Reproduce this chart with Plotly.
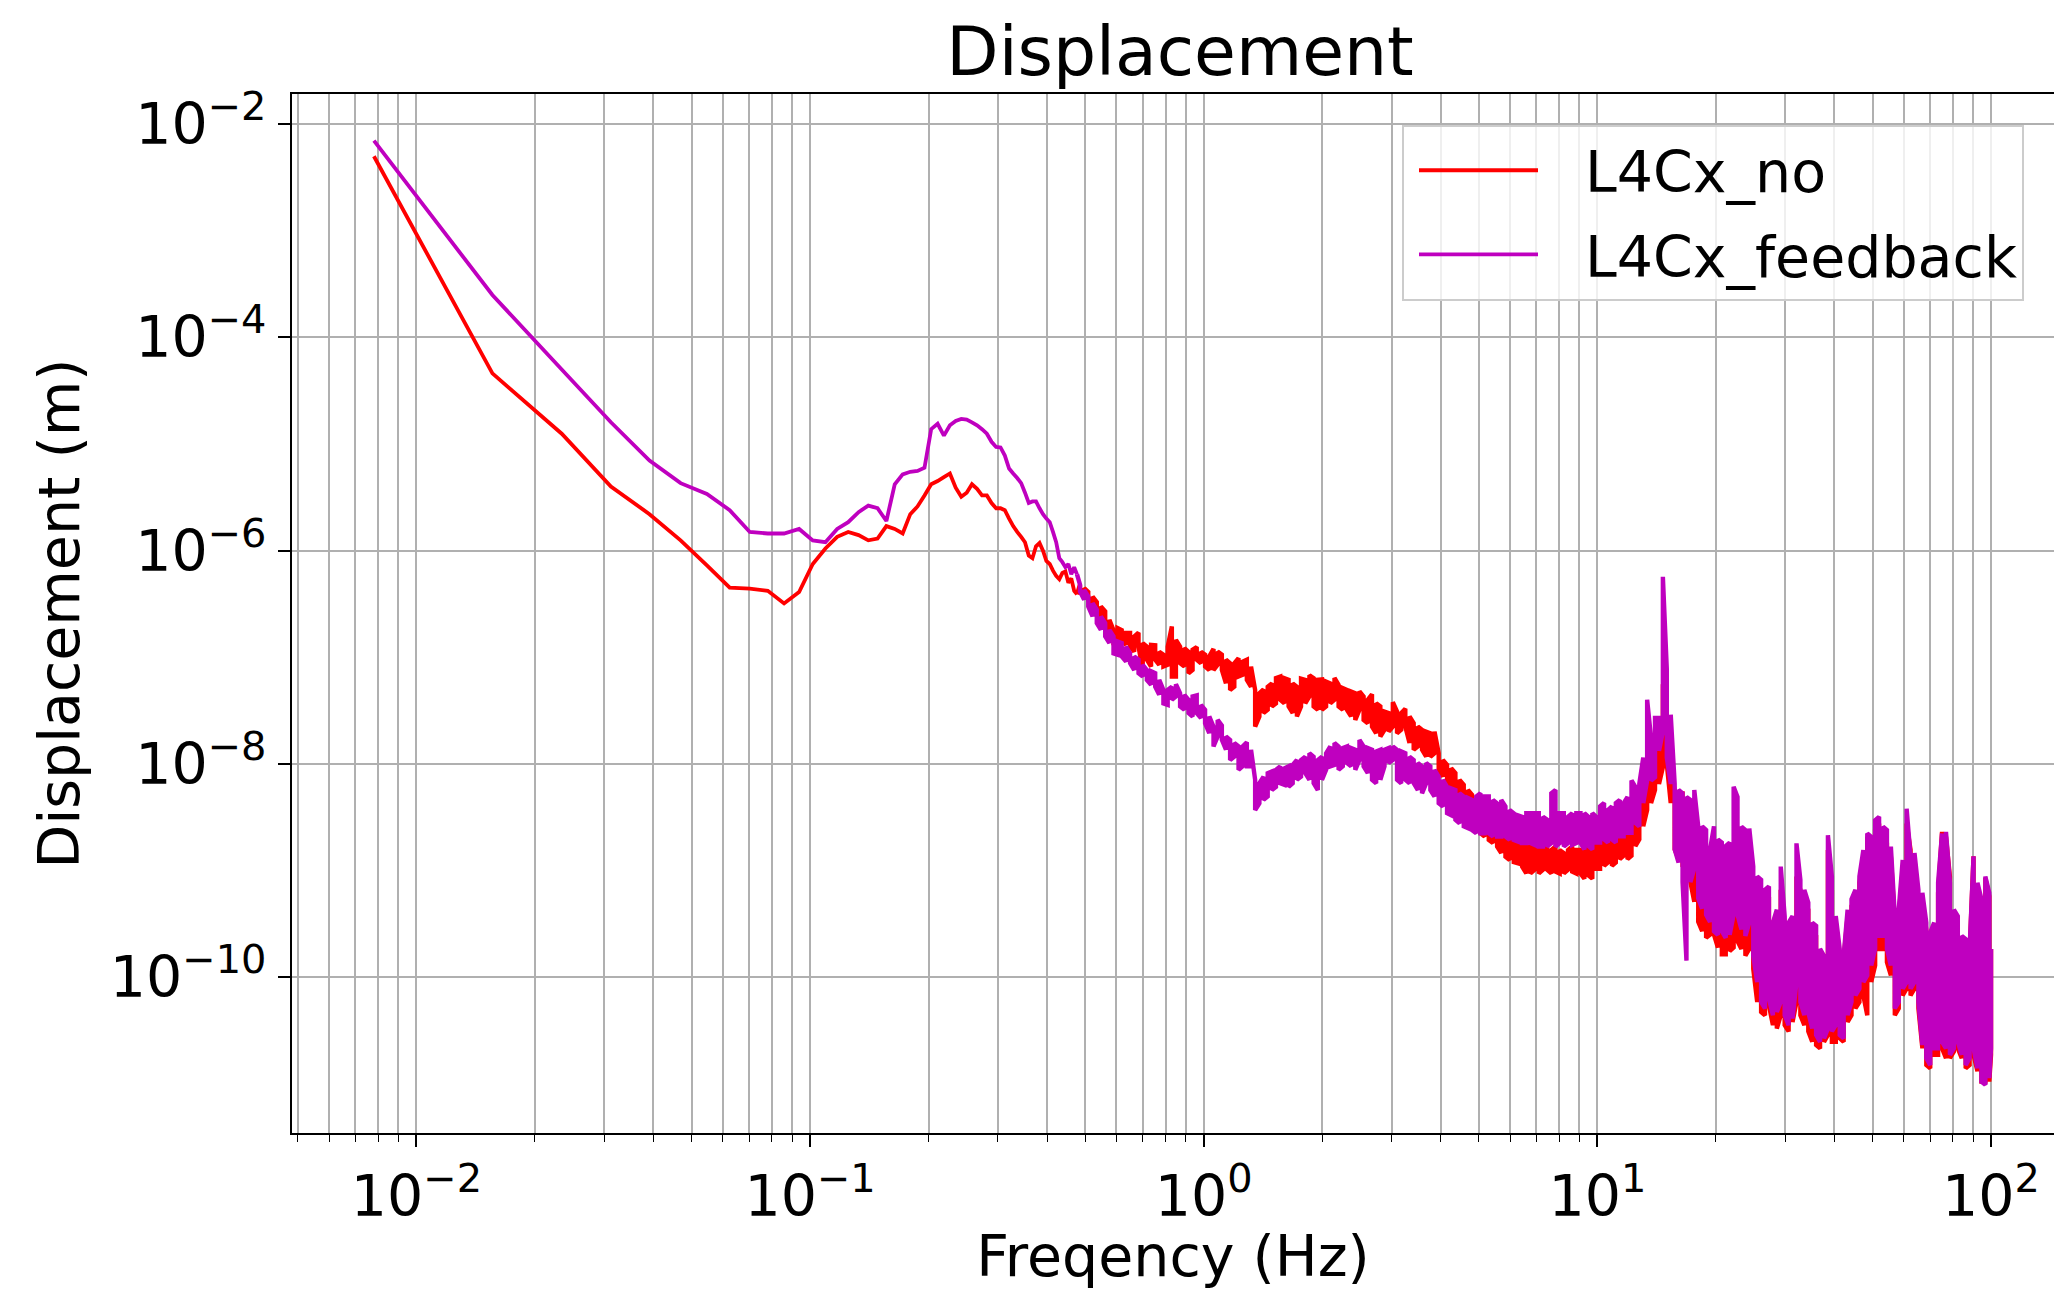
import plotly.graph_objects as go

# ---------------- data ----------------
# smooth low-frequency part (Hz) shared by both spectra
freq_low = [0.0078, 0.0156, 0.0234, 0.0312, 0.0391, 0.0469, 0.0547, 0.0625, 0.0703, 0.0781,
            0.0859, 0.0938, 0.1016, 0.1094, 0.1172, 0.125, 0.1328, 0.1406, 0.1484, 0.1563,
            0.1641, 0.1719, 0.1797, 0.1875, 0.1953, 0.2031, 0.2109, 0.2188, 0.2266, 0.2344,
            0.2422, 0.25, 0.2578, 0.2656, 0.2734, 0.2813, 0.2891, 0.2969, 0.3047, 0.3125,
            0.3203, 0.3281, 0.3359, 0.3438, 0.3516, 0.3594, 0.3672, 0.375, 0.3828, 0.3906,
            0.3984, 0.4063, 0.4141, 0.4219, 0.4297, 0.4375, 0.4453, 0.4531, 0.4609, 0.4688,
            0.4766]

red_low = [5.0e-3, 4.6e-5, 1.25e-5, 4.0e-6, 2.2e-6, 1.25e-6, 7.3e-7, 4.5e-7, 4.4e-7, 4.2e-7,
           3.2e-7, 4.1e-7, 7.5e-7, 1.05e-6, 1.35e-6, 1.5e-6, 1.4e-6, 1.25e-6, 1.3e-6, 1.7e-6,
           1.6e-6, 1.45e-6, 2.2e-6, 2.6e-6, 3.3e-6, 4.2e-6, 4.5e-6, 4.9e-6, 5.3e-6, 3.9e-6,
           3.2e-6, 3.5e-6, 4.2e-6, 3.8e-6, 3.3e-6, 3.3e-6, 2.8e-6, 2.5e-6, 2.5e-6, 2.4e-6,
           2.0e-6, 1.7e-6, 1.5e-6, 1.35e-6, 1.2e-6, 9.0e-7, 8.5e-7, 1.1e-6, 1.18e-6, 1.0e-6,
           8.0e-7, 7.5e-7, 6.5e-7, 5.8e-7, 5.4e-7, 6.2e-7, 6.4e-7, 5.0e-7, 5.5e-7, 4.2e-7,
           3.9e-7]

mag_low = [7.0e-3, 2.5e-4, 5.0e-5, 1.6e-5, 7.0e-6, 4.3e-6, 3.4e-6, 2.4e-6, 1.5e-6, 1.45e-6,
           1.45e-6, 1.6e-6, 1.25e-6, 1.2e-6, 1.6e-6, 1.85e-6, 2.3e-6, 2.65e-6, 2.5e-6, 1.9e-6,
           4.2e-6, 5.2e-6, 5.5e-6, 5.6e-6, 6.0e-6, 1.38e-5, 1.55e-5, 1.2e-5, 1.5e-5, 1.65e-5,
           1.72e-5, 1.7e-5, 1.6e-5, 1.5e-5, 1.38e-5, 1.25e-5, 1.05e-5, 9.4e-6, 9.3e-6, 7.8e-6,
           5.9e-6, 5.3e-6, 4.8e-6, 4.3e-6, 3.5e-6, 2.8e-6, 2.9e-6, 2.9e-6, 2.5e-6, 2.2e-6,
           2.0e-6, 1.85e-6, 1.5e-6, 1.2e-6, 8.5e-7, 7.8e-7, 7.0e-7, 7.5e-7, 6.0e-7, 7.0e-7,
           6.0e-7]

# noisy part (Hz): at each frequency the upper and lower extent of the noise band
freq_noise = [0.485, 0.497, 0.509, 0.522, 0.535, 0.548, 0.562, 0.576, 0.590, 0.604,
              0.619, 0.635, 0.650, 0.666, 0.683, 0.700, 0.717, 0.735, 0.753, 0.771,
              0.790, 0.810, 0.830, 0.850, 0.871, 0.893, 0.915, 0.937, 0.960, 0.984,
              1.008, 1.033, 1.059, 1.085, 1.112, 1.139, 1.167, 1.196, 1.226, 1.256,
              1.287, 1.319, 1.351, 1.385, 1.419, 1.454, 1.490, 1.526, 1.564, 1.603,
              1.643, 1.683, 1.725, 1.767, 1.811, 1.856, 1.902, 1.949, 1.997, 2.046,
              2.097, 2.149, 2.201, 2.256, 2.311, 2.368, 2.427, 2.487, 2.548, 2.611,
              2.676, 2.742, 2.810, 2.879, 2.950, 3.023, 3.098, 3.174, 3.252, 3.333,
              3.415, 3.499, 3.586, 3.674, 3.765, 3.858, 3.953, 4.051, 4.151, 4.253,
              4.359, 4.466, 4.577, 4.690, 4.805, 4.924, 5.046, 5.170, 5.298, 5.429,
              5.563, 5.700, 5.841, 5.985, 6.133, 6.285, 6.440, 6.599, 6.762, 6.929,
              7.100, 7.275, 7.455, 7.639, 7.828, 8.021, 8.219, 8.422, 8.630, 8.843,
              9.06,
              9.27, 9.49, 9.71, 9.93, 10.16, 10.40, 10.64, 10.89, 11.14, 11.40,
              11.66, 11.93, 12.21, 12.49, 12.78, 13.08, 13.38, 13.69, 14.01, 14.34,
              14.67, 15.01, 15.36, 15.72, 16.08, 16.46, 16.84, 17.23, 17.63, 18.04,
              18.46, 18.89, 19.33, 19.78, 20.24, 20.71, 21.19, 21.68, 22.19, 22.70,
              23.23, 23.77, 24.32, 24.89, 25.47, 26.06, 26.66, 27.28, 27.92, 28.57,
              29.23, 29.91, 30.61, 31.32, 32.05, 32.79, 33.56, 34.34, 35.14, 35.95,
              36.79, 37.65, 38.52, 39.42, 40.33, 41.27, 42.23, 43.22, 44.22, 45.25,
              46.31, 47.39, 48.49, 49.62, 50.77, 51.96, 53.17, 54.40, 55.67, 56.97,
              58.29, 59.65, 61.04, 62.46, 63.92, 65.40, 66.93, 68.49, 70.08, 71.71,
              73.38, 75.09, 76.84, 78.63, 80.47, 82.34, 84.26, 86.22, 88.23, 90.28,
              92.38, 94.54, 96.74, 98.99, 100.0]

red_hi = [4.8e-7, 4.45e-7, 4.1e-7, 3.7e-7, 3.3e-7, 3.0e-7, 2.7e-7, 2.25e-7, 1.8e-7, 1.88e-7,
          1.8e-7, 1.69e-7, 1.69e-7, 1.57e-7, 1.7e-7, 1.36e-7, 1.26e-7, 1.31e-7, 1.3e-7, 1.13e-7,
          1.06e-7, 1.26e-7, 1.95e-7, 1.46e-7, 1.26e-7, 1.22e-7, 1.13e-7, 1.18e-7, 1.25e-7, 1.13e-7,
          1.06e-7, 1.02e-7, 1.2e-7, 1.13e-7, 1.06e-7, 9.5e-8, 8.8e-8, 8.8e-8, 9.8e-8, 9.1e-8,
          9.5e-8, 8.2e-8, 4.95e-8, 4.6e-8, 5.0e-8, 5.3e-8, 5.7e-8, 6.4e-8, 6.6e-8, 6.37e-8,
          6.15e-8, 5.7e-8, 5.3e-8, 6.3e-8, 6.15e-8, 6.8e-8, 6.37e-8, 6.15e-8, 6.2e-8, 5.93e-8,
          5.7e-8, 6.4e-8, 5.52e-8, 5.14e-8, 4.95e-8, 4.78e-8, 4.6e-8, 4.8e-8, 4.3e-8, 4.0e-8,
          4.5e-8, 3.7e-8, 3.46e-8, 3.1e-8, 3.0e-8, 3.8e-8, 3.1e-8, 3.0e-8, 3.3e-8, 2.79e-8,
          2.41e-8, 2.24e-8, 2.09e-8, 2.01e-8, 1.94e-8, 2.01e-8, 1.26e-8, 1.09e-8, 9.8e-9, 9.1e-9,
          8.2e-9, 7.1e-9, 6.37e-9, 5.7e-9, 5.13e-9, 4.6e-9, 4.28e-9, 4.0e-9, 3.7e-9, 3.45e-9,
          3.1e-9, 3.0e-9, 2.78e-9, 2.24e-9, 2.0e-9, 1.94e-9, 1.81e-9, 1.68e-9, 1.68e-9, 1.81e-9,
          1.68e-9, 1.81e-9, 1.68e-9, 1.56e-9, 1.68e-9, 1.56e-9, 1.46e-9, 1.56e-9, 1.68e-9, 1.56e-9,
          1.56e-9,
          1.83e-9, 1.96e-9, 1.83e-9, 2.1e-9, 2.26e-9, 1.96e-9, 2.26e-9, 2.4e-9, 2.6e-9, 2.6e-9,
          2.8e-9, 2.8e-9, 3.0e-9, 3.45e-9, 4.3e-9, 5.7e-9, 7.5e-9, 9.3e-9, 1.15e-8, 1.76e-8,
          5.5e-8, 6.3e-8, 8.7e-9, 5.7e-9, 5.3e-9, 5.3e-9, 4.3e-9, 3.45e-9, 2.26e-9, 9.7e-10,
          9.0e-10, 7.8e-10, 7.8e-10, 6.8e-10, 3.85e-10, 3.85e-10, 3.3e-10, 3.85e-10, 5.5e-10, 5.5e-10,
          1.56e-9, 1.36e-9, 1.17e-9, 7.7e-10, 6.6e-10, 6.2e-10, 5.4e-10, 5.4e-10, 3.25e-10, 3.25e-10,
          6.6e-10, 3.25e-10, 2.8e-10, 3.25e-10, 8.8e-10, 6.6e-10, 5.0e-10, 4.3e-10, 2.8e-10, 2.44e-10,
          1.59e-10, 1.38e-10, 1.56e-9, 6.6e-10, 3.25e-10, 1.59e-10, 1.48e-10, 3.75e-10, 4.65e-10, 5.4e-10,
          7.7e-10, 1.36e-9, 2.08e-9, 1.8e-9, 2.4e-9, 2.77e-9, 2.08e-9, 1.8e-9, 1.36e-9, 3.25e-10,
          3.75e-10, 1.02e-9, 2.77e-9, 1.56e-9, 1.26e-9, 5.4e-10, 5.0e-10, 2.8e-10, 2.44e-10, 2.8e-10,
          6.2e-10, 2.31e-9, 2.08e-9, 8.8e-10, 4.03e-10, 3.25e-10, 2.28e-10, 2.12e-10, 1.71e-10, 1.36e-9,
          6.6e-10, 4.65e-10, 8.5e-10, 5.75e-10, 1.84e-10]

red_lo = [4.1e-7, 3.7e-7, 3.46e-7, 3.0e-7, 2.6e-7, 2.25e-7, 1.8e-7, 1.69e-7, 1.36e-7, 1.36e-7,
          1.46e-7, 1.31e-7, 1.26e-7, 1.13e-7, 1.26e-7, 7.6e-8, 9.5e-8, 8.2e-8, 9.5e-8, 8.5e-8,
          8.2e-8, 8.5e-8, 6.6e-8, 6.6e-8, 8.8e-8, 8.2e-8, 7.1e-8, 7.6e-8, 9.5e-8, 8.8e-8,
          8.2e-8, 7.6e-8, 7.6e-8, 8.5e-8, 7.6e-8, 5.7e-8, 4.95e-8, 5.3e-8, 6.6e-8, 6.85e-8,
          6.15e-8, 5.3e-8, 2.24e-8, 2.79e-8, 3.0e-8, 3.22e-8, 3.46e-8, 3.7e-8, 4.0e-8, 3.7e-8,
          3.46e-8, 3.0e-8, 2.79e-8, 3.46e-8, 3.7e-8, 4.3e-8, 3.46e-8, 3.22e-8, 3.22e-8, 3.46e-8,
          3.7e-8, 4.0e-8, 3.46e-8, 3.22e-8, 3.22e-8, 2.79e-8, 2.59e-8, 3.22e-8, 2.59e-8, 2.41e-8,
          2.24e-8, 1.94e-8, 1.81e-8, 2.09e-8, 2.01e-8, 2.24e-8, 1.94e-8, 2.09e-8, 2.24e-8, 1.57e-8,
          1.36e-8, 1.46e-8, 1.36e-8, 1.17e-8, 1.17e-8, 1.26e-8, 8.8e-9, 7.6e-9, 6.6e-9, 6.1e-9,
          5.7e-9, 4.95e-9, 4.28e-9, 3.7e-9, 3.2e-9, 2.6e-9, 2.24e-9, 2.09e-9, 1.94e-9, 1.81e-9,
          1.68e-9, 1.46e-9, 1.35e-9, 1.26e-9, 1.2e-9, 1.17e-9, 1.09e-9, 9.4e-10, 9.4e-10, 1.02e-9,
          9.4e-10, 1.02e-9, 1.02e-9, 9.4e-10, 9.8e-10, 9.4e-10, 9.4e-10, 1.02e-9, 9.8e-10, 9.4e-10,
          9.4e-10,
          8.4e-10, 9.0e-10, 8.4e-10, 1.04e-9, 1.04e-9, 1.11e-9, 1.19e-9, 1.11e-9, 1.19e-9, 1.28e-9,
          1.38e-9, 1.28e-9, 1.38e-9, 1.7e-9, 1.96e-9, 2.6e-9, 3.7e-9, 4.3e-9, 5.7e-9, 6.5e-9,
          9.3e-9, 1.0e-8, 4.3e-9, 1.58e-9, 1.28e-9, 1.11e-9, 1.04e-9, 7.8e-10, 5.1e-10, 3.3e-10,
          2.7e-10, 2.34e-10, 2.5e-10, 2.5e-10, 1.9e-10, 1.64e-10, 1.64e-10, 1.76e-10, 1.9e-10, 2.18e-10,
          1.84e-10, 1.59e-10, 1.84e-10, 1.2e-10, 5.85e-11, 4.72e-11, 4.4e-11, 5.45e-11, 3.55e-11, 3.3e-11,
          4.4e-11, 3.55e-11, 3.1e-11, 3.8e-11, 5.85e-11, 4.4e-11, 3.55e-11, 3.1e-11, 2.48e-11, 2.31e-11,
          2.15e-11, 2.48e-11, 2.87e-11, 2.48e-11, 2.48e-11, 2.67e-11, 2.48e-11, 3.8e-11, 4.4e-11, 5.1e-11,
          5.85e-11, 6.75e-11, 4.4e-11, 9.0e-11, 1.29e-10, 1.84e-10, 1.84e-10, 1.38e-10, 1.04e-10, 4.4e-11,
          5.1e-11, 6.75e-11, 7.8e-11, 6.75e-11, 7.8e-11, 5.1e-11, 2.15e-11, 1.5e-11, 1.4e-11, 1.87e-11,
          1.87e-11, 2.15e-11, 1.74e-11, 1.74e-11, 2.0e-11, 2.15e-11, 1.74e-11, 1.4e-11, 1.5e-11, 1.87e-11,
          1.31e-11, 1.05e-11, 1.05e-11, 1.05e-11, 1.87e-11]

mag_hi = [4.8e-7, 4.3e-7, 3.72e-7, 3.22e-7, 2.8e-7, 2.42e-7, 2.09e-7, 1.81e-7, 1.57e-7, 1.41e-7,
          1.36e-7, 1.26e-7, 1.09e-7, 1.02e-7, 9.5e-8, 8.5e-8, 7.6e-8, 7.4e-8, 7.1e-8, 6.15e-8,
          4.95e-8, 4.95e-8, 5.3e-8, 5.6e-8, 4.6e-8, 4.45e-8, 4.0e-8, 4.3e-8, 4.4e-8, 3.58e-8,
          3.22e-8, 2.79e-8, 2.24e-8, 2.59e-8, 2.3e-8, 1.81e-8, 1.68e-8, 1.57e-8, 1.46e-8, 1.46e-8,
          1.6e-8, 1.36e-8, 7.1e-9, 6.6e-9, 7.6e-9, 8.2e-9, 8.5e-9, 8.8e-9, 9.5e-9, 9.1e-9,
          9.5e-9, 9.8e-9, 1.09e-8, 1.09e-8, 1.17e-8, 1.26e-8, 1.17e-8, 1.09e-8, 1.17e-8, 1.26e-8,
          1.46e-8, 1.57e-8, 1.46e-8, 1.41e-8, 1.46e-8, 1.41e-8, 1.36e-8, 1.68e-8, 1.46e-8, 1.41e-8,
          1.36e-8, 1.31e-8, 1.36e-8, 1.36e-8, 1.41e-8, 1.46e-8, 1.36e-8, 1.31e-8, 1.26e-8, 1.17e-8,
          1.09e-8, 1.02e-8, 9.5e-9, 1.02e-8, 9.5e-9, 8.8e-9, 7.6e-9, 7.1e-9, 6.1e-9, 5.9e-9,
          5.7e-9, 5.3e-9, 4.95e-9, 4.8e-9, 4.6e-9, 4.95e-9, 5.3e-9, 4.95e-9, 4.95e-9, 4.6e-9,
          4.28e-9, 4.6e-9, 4.0e-9, 3.7e-9, 3.45e-9, 3.3e-9, 3.2e-9, 3.45e-9, 3.45e-9, 3.45e-9,
          3.45e-9, 3.2e-9, 3.0e-9, 5.3e-9, 5.7e-9, 3.45e-9, 3.45e-9, 3.2e-9, 3.45e-9, 3.45e-9,
          3.45e-9,
          3.45e-9, 3.2e-9, 3.45e-9, 3.2e-9, 4.0e-9, 4.3e-9, 3.7e-9, 4.0e-9, 4.3e-9, 4.6e-9,
          4.3e-9, 4.9e-9, 7.0e-9, 6.1e-9, 6.5e-9, 1.15e-8, 4.0e-8, 1.76e-8, 2.7e-8, 2.7e-8,
          5.7e-7, 7.8e-8, 2.9e-8, 6.5e-9, 5.7e-9, 5.3e-9, 4.9e-9, 4.6e-9, 5.7e-9, 2.6e-9,
          2.6e-9, 2.4e-9, 1.58e-9, 2.6e-9, 1.96e-9, 1.83e-9, 1.7e-9, 1.83e-9, 6.1e-9, 4.9e-9,
          2.58e-9, 2.4e-9, 2.48e-9, 1.09e-9, 8.8e-10, 8.2e-10, 6.6e-10, 7.1e-10, 3.25e-10, 4.3e-10,
          1.09e-9, 3.75e-10, 3.25e-10, 3.75e-10, 1.8e-9, 8.2e-10, 6.6e-10, 5.0e-10, 3.25e-10, 3.03e-10,
          1.84e-10, 1.59e-10, 2.15e-9, 8.8e-10, 3.75e-10, 1.84e-10, 1.59e-10, 4.3e-10, 5.4e-10, 6.6e-10,
          8.8e-10, 1.56e-9, 2.23e-9, 2.08e-9, 2.97e-9, 3.19e-9, 2.58e-9, 2.4e-9, 1.68e-9, 3.75e-10,
          4.3e-10, 1.26e-9, 3.8e-9, 1.36e-9, 1.46e-9, 6.6e-10, 6.2e-10, 3.25e-10, 2.62e-10, 3.25e-10,
          7.7e-10, 2.23e-9, 2.31e-9, 7.7e-10, 4.3e-10, 3.75e-10, 2.44e-10, 2.28e-10, 1.84e-10, 1.36e-9,
          7.7e-10, 5.4e-10, 8.8e-10, 6.2e-10, 1.84e-10]

mag_lo = [4.14e-7, 3.46e-7, 3.0e-7, 2.42e-7, 2.09e-7, 1.81e-7, 1.57e-7, 1.36e-7, 1.09e-7, 1.06e-7,
          1.02e-7, 9.1e-8, 8.8e-8, 7.6e-8, 7.1e-8, 6.6e-8, 6.15e-8, 5.52e-8, 5.3e-8, 4.45e-8,
          3.7e-8, 3.58e-8, 4.0e-8, 4.3e-8, 3.46e-8, 3.22e-8, 3.0e-8, 2.79e-8, 3.0e-8, 2.7e-8,
          2.41e-8, 1.94e-8, 1.46e-8, 1.81e-8, 1.68e-8, 1.36e-8, 1.09e-8, 1.17e-8, 8.8e-9, 9.5e-9,
          9.5e-9, 9.5e-9, 3.7e-9, 4.28e-9, 4.6e-9, 4.95e-9, 5.7e-9, 6.1e-9, 6.6e-9, 6.37e-9,
          6.1e-9, 6.6e-9, 7.1e-9, 7.6e-9, 8.2e-9, 7.1e-9, 6.6e-9, 5.7e-9, 7.1e-9, 8.8e-9,
          9.5e-9, 9.8e-9, 8.8e-9, 9.5e-9, 1.02e-8, 9.5e-9, 8.8e-9, 1.09e-8, 9.5e-9, 8.2e-9,
          7.1e-9, 6.6e-9, 7.1e-9, 9.5e-9, 1.02e-8, 1.09e-8, 7.1e-9, 6.6e-9, 7.1e-9, 6.6e-9,
          6.6e-9, 5.7e-9, 5.3e-9, 6.6e-9, 5.7e-9, 4.95e-9, 4.28e-9, 4.0e-9, 3.45e-9, 3.3e-9,
          3.0e-9, 2.78e-9, 2.6e-9, 2.5e-9, 2.4e-9, 2.24e-9, 2.24e-9, 2.24e-9, 2.24e-9, 2.09e-9,
          2.09e-9, 2.09e-9, 2.09e-9, 1.94e-9, 1.94e-9, 1.87e-9, 1.81e-9, 1.81e-9, 1.81e-9, 1.74e-9,
          1.68e-9, 1.68e-9, 1.68e-9, 1.81e-9, 1.68e-9, 1.81e-9, 1.68e-9, 1.81e-9, 1.74e-9, 1.81e-9,
          1.81e-9,
          1.58e-9, 1.7e-9, 1.58e-9, 1.83e-9, 1.83e-9, 1.96e-9, 1.83e-9, 1.96e-9, 1.83e-9, 2.1e-9,
          2.1e-9, 2.26e-9, 2.26e-9, 2.8e-9, 2.6e-9, 4.3e-9, 7.0e-9, 7.0e-9, 7.5e-9, 1.33e-8,
          2.0e-8, 1.15e-8, 6.5e-9, 1.58e-9, 1.19e-9, 7.8e-10, 1.43e-10, 7.8e-10, 1.04e-9, 5.5e-10,
          4.4e-10, 3.85e-10, 3.3e-10, 2.7e-10, 2.5e-10, 2.7e-10, 2.34e-10, 2.5e-10, 3.85e-10, 3.85e-10,
          2.8e-10, 2.44e-10, 3.25e-10, 1.59e-10, 9.0e-11, 5.85e-11, 5.1e-11, 6.3e-11, 4.4e-11, 4.72e-11,
          5.85e-11, 4.4e-11, 3.55e-11, 4.1e-11, 9.0e-11, 5.85e-11, 4.4e-11, 4.72e-11, 3.3e-11, 2.87e-11,
          2.48e-11, 2.67e-11, 3.3e-11, 3.1e-11, 3.55e-11, 2.87e-11, 2.67e-11, 4.4e-11, 5.85e-11, 6.75e-11,
          7.8e-11, 9.0e-11, 1.04e-10, 1.29e-10, 1.84e-10, 2.44e-10, 2.44e-10, 1.84e-10, 1.29e-10, 5.1e-11,
          5.85e-11, 7.8e-11, 9.0e-11, 7.8e-11, 9.0e-11, 5.85e-11, 2.31e-11, 1.74e-11, 1.5e-11, 2.15e-11,
          2.15e-11, 2.48e-11, 2.15e-11, 1.87e-11, 2.15e-11, 2.48e-11, 1.87e-11, 1.5e-11, 1.74e-11, 2.15e-11,
          1.4e-11, 1.05e-11, 9.8e-12, 1.13e-11, 2.15e-11]

series_names = ["L4Cx_no", "L4Cx_feedback"]
series_colors = ["#ff0000", "#bf00bf"]

x_tickvals = [0.01, 0.1, 1, 10, 100]
x_ticktext = ["10<sup>\u22122</sup>", "10<sup>\u22121</sup>", "10<sup>0</sup>",
              "10<sup>1</sup>", "10<sup>2</sup>"]
y_tickvals = [1e-2, 1e-4, 1e-6, 1e-8, 1e-10]
y_ticktext = ["10<sup>\u22122</sup>", "10<sup>\u22124</sup>", "10<sup>\u22126</sup>",
              "10<sup>\u22128</sup>", "10<sup>\u221210</sup>"]
x_minor = [m * 10.0 ** d for d in range(-3, 3) for m in range(2, 10)]

for arr in (red_hi, red_lo, mag_hi, mag_lo):
    assert len(arr) == len(freq_noise), (len(arr), len(freq_noise))
assert len(red_low) == len(freq_low) and len(mag_low) == len(freq_low)


def noise_path(low_vals, hi, lo):
    # the noisy part continues from the last smooth point; at each frequency the
    # line runs over the full vertical extent of the band
    xs = [freq_low[-1]]
    ys = [low_vals[-1]]
    for i, f in enumerate(freq_noise):
        xs += [f, f]
        ys += [hi[i], lo[i]] if i % 2 == 0 else [lo[i], hi[i]]
    return xs, ys


FONT = "DejaVu Sans"
fig = go.Figure()
for name, color, (lv, hv, lov) in zip(series_names, series_colors,
                                      [(red_low, red_hi, red_lo), (mag_low, mag_hi, mag_lo)]):
    fig.add_trace(go.Scatter(x=freq_low, y=lv, mode="lines", name=name, legendgroup=name,
                             line=dict(color=color, width=3.8, simplify=False)))
    nx, ny = noise_path(lv, hv, lov)
    fig.add_trace(go.Scatter(x=nx, y=ny, mode="lines", name=name, legendgroup=name,
                             showlegend=False,
                             line=dict(color=color, width=4.4, simplify=False)))

W, H = 2054, 1289
L, R, T, B = 292, 0, 94, 156
fig.update_layout(
    width=W, height=H,
    margin=dict(l=L, r=R, t=T, b=B, autoexpand=False),
    paper_bgcolor="white", plot_bgcolor="white",
    font=dict(family=FONT, size=57, color="black"),
    title=dict(text="Displacement", font=dict(family=FONT, size=68, color="black"),
               x=1180 / W, xref="container", xanchor="center",
               y=1 - 51 / H, yref="container", yanchor="middle"),
    showlegend=True,
    legend=dict(x=(1402 - L) / (W - L - R), y=(1133 - 125) / (1133 - 94.3),
                xanchor="left", yanchor="top",
                bgcolor="rgba(255,255,255,0.8)", bordercolor="#cccccc", borderwidth=2,
                font=dict(family=FONT, size=57, color="black"),
                tracegroupgap=7, itemwidth=171),
)
fig.update_xaxes(
    type="log", range=[-2.316, 2.16],
    tickmode="array", tickvals=x_tickvals, ticktext=x_ticktext,
    ticks="outside", ticklen=12, tickwidth=1.6, tickcolor="black",
    showline=True, linecolor="black", linewidth=2.2, mirror=True,
    showgrid=True, gridcolor="#b0b0b0", gridwidth=1.6,
    minor=dict(tickmode="array", tickvals=x_minor, ticks="outside", ticklen=7,
               tickwidth=1.4, tickcolor="black", showgrid=True,
               gridcolor="#b0b0b0", gridwidth=1.6),
    tickfont=dict(family=FONT, size=57, color="black"),
    title=dict(text="Freqency (Hz)", font=dict(family=FONT, size=57, color="black"),
               standoff=20),
    zeroline=False,
)
fig.update_yaxes(
    type="log", range=[-11.461, -1.717],
    tickmode="array", tickvals=y_tickvals, ticktext=y_ticktext,
    ticks="outside", ticklen=12, tickwidth=1.6, tickcolor="black",
    showline=True, linecolor="black", linewidth=2.2, mirror=False,
    showgrid=True, gridcolor="#b0b0b0", gridwidth=1.6,
    tickfont=dict(family=FONT, size=57, color="black"),
    title=dict(text="Displacement (m)", font=dict(family=FONT, size=57, color="black"),
               standoff=12),
    zeroline=False,
)

# legend sample lines: same length/offset as the reference key (drawn by plotly, only reshaped)
legend_js = """
var gd = document.getElementById('{plot_id}');
function fixLegendLines() {
  gd.querySelectorAll('.legend .legendlines path').forEach(function (p) {
    p.setAttribute('d', 'M15,0h119');
  });
}
fixLegendLines();
gd.on('plotly_afterplot', fixLegendLines);
"""

fig.write_html("out.html", post_script=legend_js)
